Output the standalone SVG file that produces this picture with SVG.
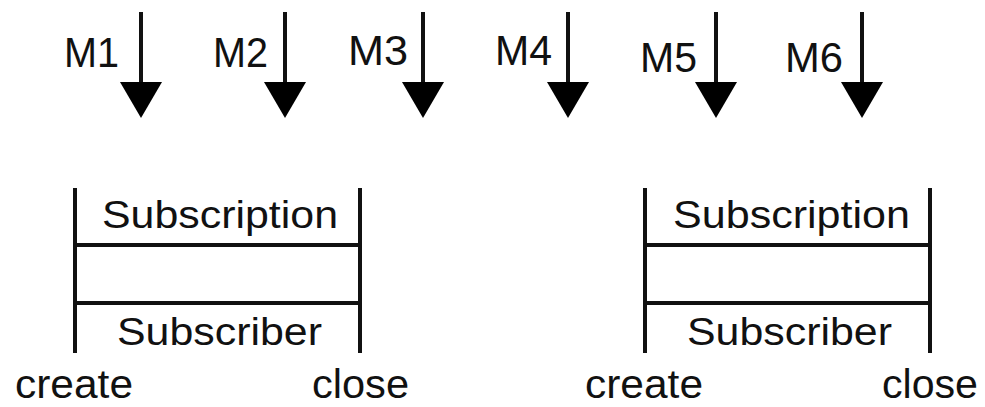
<svg xmlns="http://www.w3.org/2000/svg" width="985" height="407" viewBox="0 0 985 407">
<style>
text{font-family:"Liberation Sans",Arial,sans-serif;fill:#111}
.m{font-size:43px}
.b{font-size:39px}
.e{font-size:40px}
.ln{stroke:#111;stroke-width:4;fill:none}
.head{fill:#000}
</style>
<rect width="985" height="407" fill="#fff"/>
<g id="connectors">
<g id="arrow-M1"><line class="ln" x1="141" y1="12" x2="141" y2="90"/><polygon class="head" points="120,82 162,82 141,118"/></g>
<g id="arrow-M2"><line class="ln" x1="285" y1="12" x2="285" y2="90"/><polygon class="head" points="264,82 306,82 285,118"/></g>
<g id="arrow-M3"><line class="ln" x1="423" y1="12" x2="423" y2="90"/><polygon class="head" points="402,82 444,82 423,118"/></g>
<g id="arrow-M4"><line class="ln" x1="568" y1="12" x2="568" y2="90"/><polygon class="head" points="547,82 589,82 568,118"/></g>
<g id="arrow-M5"><line class="ln" x1="716" y1="12" x2="716" y2="90"/><polygon class="head" points="695,82 737,82 716,118"/></g>
<g id="arrow-M6"><line class="ln" x1="862" y1="12" x2="862" y2="90"/><polygon class="head" points="841,82 883,82 862,118"/></g>
</g>
<g id="labels">
<text class="m" x="64" y="67" textLength="55" lengthAdjust="spacingAndGlyphs">M1</text>
<text class="m" x="213" y="67" textLength="55" lengthAdjust="spacingAndGlyphs">M2</text>
<text class="m" x="348" y="65" textLength="60" lengthAdjust="spacingAndGlyphs">M3</text>
<text class="m" x="495" y="65" textLength="57" lengthAdjust="spacingAndGlyphs">M4</text>
<text class="m" x="640" y="72" textLength="57" lengthAdjust="spacingAndGlyphs">M5</text>
<text class="m" x="785" y="72" textLength="58" lengthAdjust="spacingAndGlyphs">M6</text>
</g>
<g id="lifecycle-1">
<line class="ln" x1="75" y1="188" x2="75" y2="353"/>
<line class="ln" x1="360" y1="188" x2="360" y2="353"/>
<line class="ln" x1="75" y1="245" x2="360" y2="245"/>
<line class="ln" x1="75" y1="303" x2="360" y2="303"/>
<text class="b" x="102" y="228" textLength="236" lengthAdjust="spacingAndGlyphs">Subscription</text>
<text class="b" x="117" y="345" textLength="205" lengthAdjust="spacingAndGlyphs">Subscriber</text>
<text class="e" x="15" y="398" textLength="118" lengthAdjust="spacingAndGlyphs">create</text>
<text class="e" x="312" y="398" textLength="97" lengthAdjust="spacingAndGlyphs">close</text>
</g>
<g id="lifecycle-2">
<line class="ln" x1="645" y1="188" x2="645" y2="353"/>
<line class="ln" x1="930" y1="188" x2="930" y2="353"/>
<line class="ln" x1="645" y1="245" x2="930" y2="245"/>
<line class="ln" x1="645" y1="303" x2="930" y2="303"/>
<text class="b" x="673" y="228" textLength="237" lengthAdjust="spacingAndGlyphs">Subscription</text>
<text class="b" x="687" y="345" textLength="205" lengthAdjust="spacingAndGlyphs">Subscriber</text>
<text class="e" x="585" y="398" textLength="118" lengthAdjust="spacingAndGlyphs">create</text>
<text class="e" x="882" y="398" textLength="96" lengthAdjust="spacingAndGlyphs">close</text>
</g>
</svg>
